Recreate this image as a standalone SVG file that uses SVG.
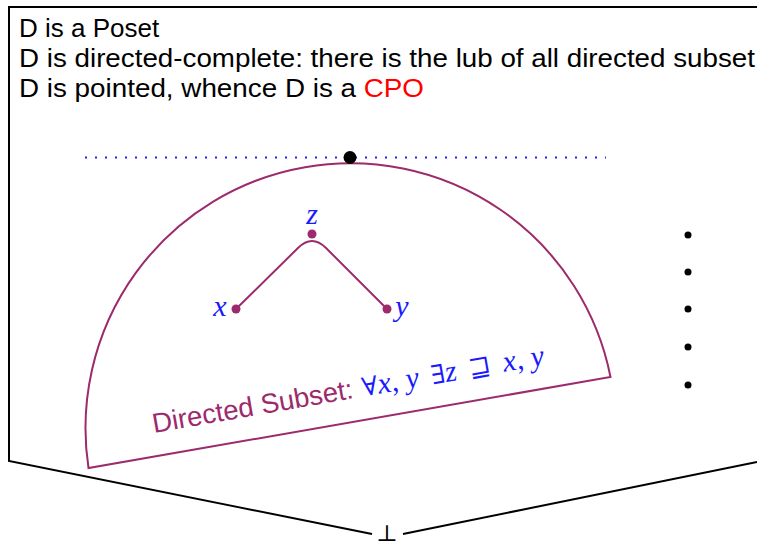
<svg xmlns="http://www.w3.org/2000/svg" width="757" height="545" viewBox="0 0 757 545">
<style>
.txt{font-family:"Liberation Sans","DejaVu Sans",sans-serif;font-size:26px;fill:#000}
.math{font-family:"Liberation Serif","DejaVu Serif",serif;font-style:italic;font-size:30px;fill:#1a1aff}
.sym{font-family:"DejaVu Serif","Liberation Serif",serif;font-style:normal;font-size:26px}
.outline{fill:none;stroke:#000;stroke-width:2}
.purple{fill:none;stroke:#9c2a6c;stroke-width:2}
.pdot{fill:#9c2a6c}
.bdot{fill:#000}
</style>
<rect width="757" height="545" fill="#fff"/>
<g id="frame">
<path class="outline" d="M757,7 L9,7 L9,461 L372,534"/>
<path class="outline" d="M403,534 L757,462"/>
<text x="387" y="541" text-anchor="middle" style="font-family:'DejaVu Serif',serif;font-size:23px;fill:#000">⊥</text>
</g>
<g id="header">
<text class="txt" x="19" y="37">D is a Poset</text>
<text class="txt" x="19" y="67" textLength="736" lengthAdjust="spacingAndGlyphs">D is directed-complete: there is the lub of all directed subset</text>
<text class="txt" x="19" y="97" textLength="405" lengthAdjust="spacingAndGlyphs">D is pointed, whence D is a <tspan fill="#ff0000">CPO</tspan></text>
</g>
<g id="connectors">
<line x1="85" y1="157.5" x2="606" y2="157.5" stroke="#2020ff" stroke-width="2" stroke-dasharray="2 8"/>
<path class="purple" d="M236,309 L298,248 Q312,234 326,248 L387,309"/>
</g>
<g id="directed-subset">
<path class="purple" d="M88.5,468 A265,265 0 0 1 610.5,377 Z"/>
<text transform="translate(154,433) rotate(-9.9)" x="0" y="0"><tspan class="txt" style="fill:#9c2a6c;font-size:27.5px">Directed Subset: </tspan><tspan class="math"><tspan class="sym" dx="2">∀</tspan>x, y <tspan class="sym" dx="5">∃</tspan>z <tspan class="sym" dx="5">⊒</tspan><tspan dx="5"> x, y</tspan></tspan></text>
</g>
<g id="lub">
<circle class="bdot" cx="350" cy="157.5" r="6.5"/>
</g>
<g id="z">
<circle class="pdot" cx="312" cy="234" r="4.5"/>
<text class="math" x="312" y="224" text-anchor="middle">z</text>
</g>
<g id="x">
<circle class="pdot" cx="236" cy="309" r="4.5"/>
<text class="math" x="220" y="316" text-anchor="middle">x</text>
</g>
<g id="y">
<circle class="pdot" cx="387" cy="309" r="4.5"/>
<text class="math" x="402" y="316" text-anchor="middle">y</text>
</g>
<g id="others">
<circle class="bdot" cx="688" cy="235" r="3.5"/>
<circle class="bdot" cx="688" cy="272" r="3.5"/>
<circle class="bdot" cx="688" cy="309" r="3.5"/>
<circle class="bdot" cx="688" cy="347" r="3.5"/>
<circle class="bdot" cx="688" cy="385" r="3.5"/>
</g>
</svg>
